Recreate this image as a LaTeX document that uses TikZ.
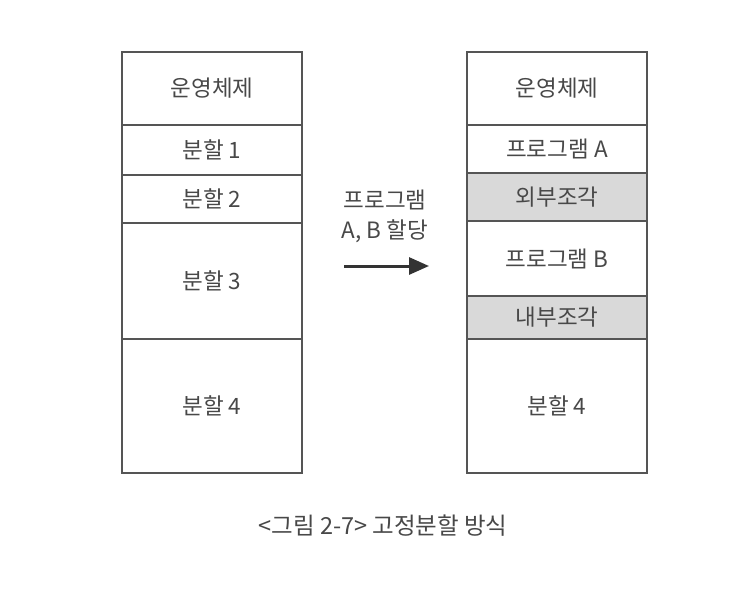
\documentclass[tikz,border=0pt]{standalone}
\usepackage{fontspec}
\setmainfont{Noto Sans CJK KR}
\usetikzlibrary{arrows.meta}
\definecolor{txt}{HTML}{484848}
\definecolor{edge}{HTML}{555555}
\definecolor{frag}{HTML}{D9D9D9}
\begin{document}
\begin{tikzpicture}[x=1pt,y=-1pt,
  cell/.style={draw=edge,line width=1.1pt,minimum width=180pt,inner sep=0pt,
    text=txt,font=\fontsize{22.5}{26}\selectfont,anchor=center},
  fragcell/.style={cell,fill=frag},
  lbl/.style={text=txt,font=\fontsize{22.5}{30}\selectfont,align=center},
  arr/.style={draw=black!80,line width=3pt,-{Triangle[length=20pt,width=17pt]}}]
\fill[white] (0,0) rectangle (748,606);
\useasboundingbox (0,0) rectangle (748,606);
% left column
\node[cell,minimum height=73pt]  (l0) at (212,88.5) {운영체제};
\node[cell,minimum height=50pt]  (l1) at (212,150)  {분할 1};
\node[cell,minimum height=48pt]  (l2) at (212,199)  {분할 2};
\node[cell,minimum height=116pt] (l3) at (212,281)  {분할 3};
\node[cell,minimum height=134pt] (l4) at (212,406)  {분할 4};
% right column
\node[cell,minimum height=73pt]     (r0) at (557,88.5)  {운영체제};
\node[cell,minimum height=48pt]     (r1) at (557,149)   {프로그램 A};
\node[fragcell,minimum height=48pt] (r2) at (557,197)   {외부조각};
\node[cell,minimum height=75pt]     (r3) at (557,258.5) {프로그램 B};
\node[fragcell,minimum height=43pt] (r4) at (557,317.5) {내부조각};
\node[cell,minimum height=134pt]    (r5) at (557,406)   {분할 4};
% arrow
\node[lbl] (alloc) at (385,216) {프로그램\\A, B 할당};
\coordinate (as) at (344,266);
\coordinate (ae) at (429,266);
\draw[arr] (as) -- (ae);
% caption
\node[text=txt,font=\fontsize{23.5}{26}\selectfont] (cap) at (383,526) {<그림 2-7> 고정분할 방식};
\end{tikzpicture}
\end{document}
